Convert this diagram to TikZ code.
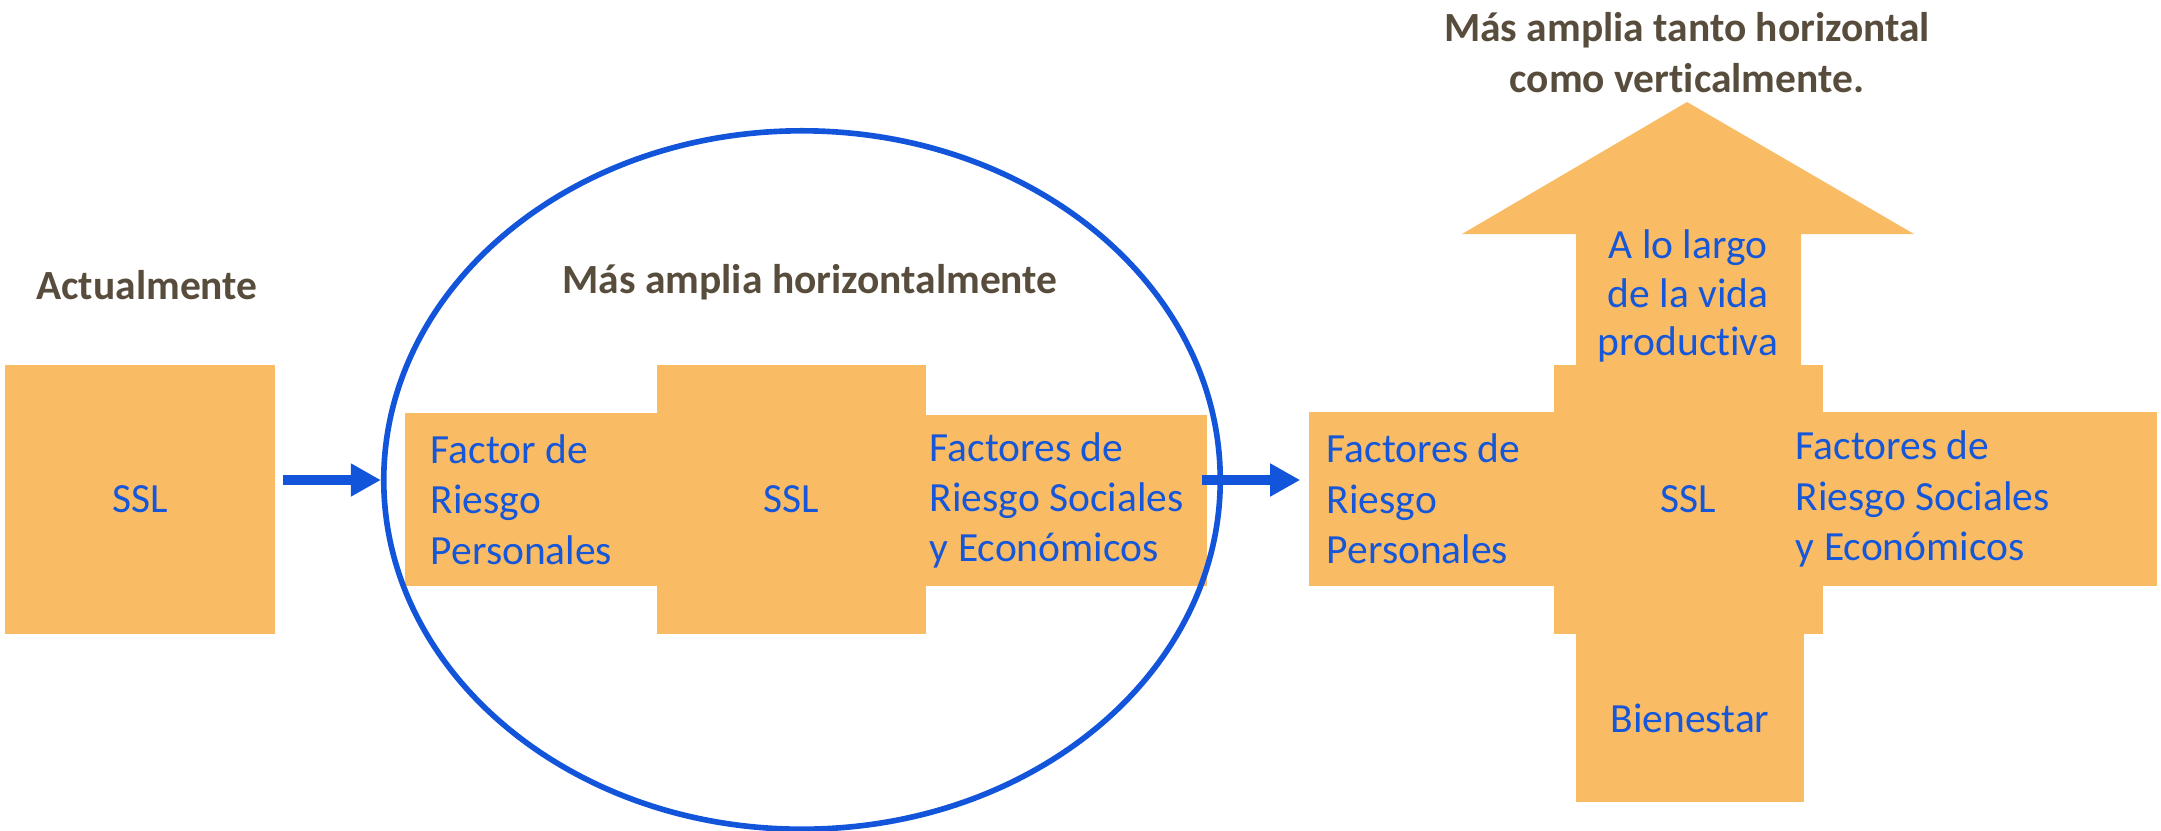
\documentclass[tikz,border=0pt]{standalone}
\usepackage{fontspec}
\setmainfont[Ligatures=NoCommon]{Carlito}
\usetikzlibrary{shapes.geometric,arrows.meta}
\definecolor{naranja}{RGB}{249,188,101}
\definecolor{azul}{RGB}{21,87,216}
\definecolor{azulborde}{RGB}{18,85,219}
\definecolor{cafe}{RGB}{88,77,61}

\begin{document}
\begin{tikzpicture}[x=0.01cm,y=-0.01cm,
  font=\fontsize{11.8pt}{14.3pt}\selectfont,
  caja/.style={rectangle,fill=naranja,text=azul,inner sep=0pt},
  titulo/.style={text=cafe,font=\fontsize{11.8pt}{14.5pt}\selectfont\bfseries,align=center},
  flecha/.style={azulborde,line width=2.8pt,-{Triangle[length=0.3cm,width=0.31cm]}}]
  \useasboundingbox (0,0) rectangle (2161,830);

  % actualmente
  \node[titulo] (T1) at (147,285) {Actualmente};
  \node[caja,minimum width=2.70cm,minimum height=2.69cm] (S1) at (140,499.5) {SSL};

  % mas amplia horizontalmente
  \node[titulo] (T2) at (810,282) {Más amplia horizontalmente};
  \begin{scope}[every node/.append style={caja,align=flush left}]
    \node[minimum width=2.69cm,minimum height=2.69cm,align=center] (S2) at (791.5,499.5) {SSL};
    \node[minimum height=1.73cm,text width=2.00cm,inner xsep=0.26cm] (P2) at (531,499.5) {Factor de\\Riesgo\\Personales};
    \node[minimum height=1.71cm,text width=2.73cm,inner xsep=0.04cm] (E2) at (1066.5,500.5) {Factores de\\Riesgo Sociales\\y Económicos};
  \end{scope}
  \node[ellipse,draw=azulborde,line width=1.6pt,minimum width=8.36cm,minimum height=6.98cm,inner sep=0pt] (H) at (802,480) {};

  % mas amplia tanto horizontal como verticalmente
  \node[titulo] (T3) at (1687,53) {Más amplia tanto horizontal\\como verticalmente.};
  \fill[naranja] (1576,365) -- (1576,234) -- (1462,234) -- (1687,102)
    -- (1914,234) -- (1801,234) -- (1801,365) -- cycle;
  \node[text=azul,align=center,font=\fontsize{11.8pt}{13.8pt}\selectfont] (V3) at (1688,296) {A lo largo\\de la vida\\productiva};
  \begin{scope}[every node/.append style={caja,align=flush left}]
    \node[minimum width=2.69cm,minimum height=2.69cm,align=center] (S3) at (1688.5,499.5) {SSL};
    \node[minimum height=1.74cm,text width=2.09cm,inner xsep=0.18cm] (P3) at (1431.5,499) {Factores de\\Riesgo\\Personales};
    \node[minimum height=1.74cm,text width=3.61cm] (E3) at (1976.5,499) {Factores de\\Riesgo Sociales\\y Económicos};
    \node[minimum width=2.28cm,minimum height=1.68cm,align=center] (B3) at (1690,718) {Bienestar};
  \end{scope}

  \draw[flecha,shorten <=0.07cm] (S1.east |- H.west) -- (H.west);
  \draw[flecha] ([xshift=-0.21cm]H.east) -- ([xshift=-0.08cm]H.east -| P3.west);
\end{tikzpicture}
\end{document}
